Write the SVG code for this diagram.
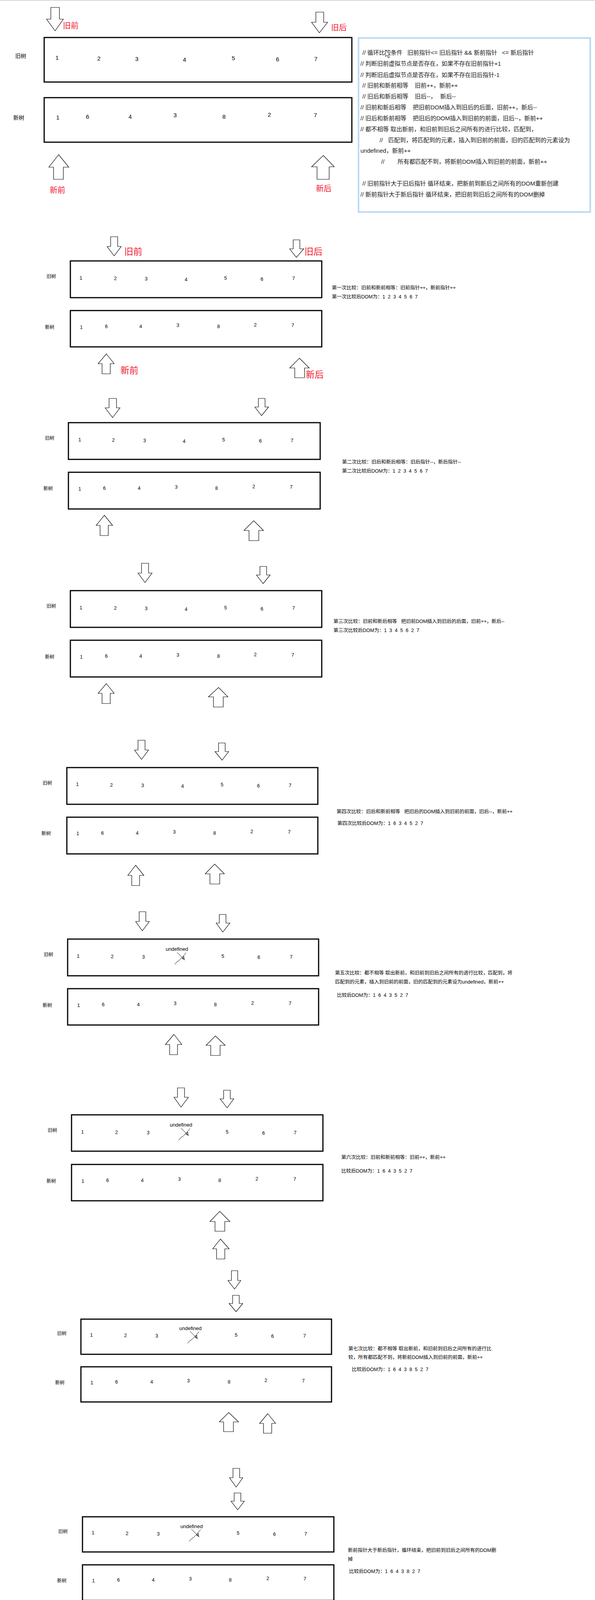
<svg xmlns="http://www.w3.org/2000/svg" width="1522" height="4279" viewBox="0 0 1522 4279">
<style>
text{font-family:"Liberation Sans","Noto Sans CJK SC",sans-serif;fill:#000}
.box{fill:none;stroke:#000;stroke-width:3}
.arr{fill:#fff;stroke:#000;stroke-width:1.2;stroke-linejoin:miter}
.num{font-size:12.5px;text-anchor:middle}
.num1{font-size:15px;text-anchor:middle}
.lbl{font-size:12px}
.lbl1{font-size:14px}
.red{font-size:23px;fill:#f2182f}
.red1{font-size:20px;fill:#f2182f}
.side{font-size:12.5px;white-space:pre}
.cm{font-size:15px;white-space:pre;fill:#1a1a1a}
.und{font-size:13px}
.xm{fill:none;stroke:#000;stroke-width:1}
</style>
<rect width="1522" height="4279" fill="#fff"/>
<line x1="0" y1="1" x2="1522" y2="1" stroke="#d3d7de" stroke-width="2"/>

<!-- Section 1 -->
<g id="s1">
  <g id="s1-old"><rect class="box" x="113" y="96" width="787" height="114"/>
    <text class="lbl1" x="39" y="148">旧树</text>
    <text class="num1" x="146" y="152.5">1</text><text class="num1" x="253" y="154.5">2</text><text class="num1" x="350" y="155.5">3</text><text class="num1" x="472" y="157.5">4</text><text class="num1" x="597" y="153.5">5</text><text class="num1" x="710" y="156.5">6</text><text class="num1" x="808" y="155.5">7</text>
  </g>
  <g id="s1-new"><rect class="box" x="113" y="250" width="787" height="114"/>
    <text class="lbl1" x="34" y="306">新树</text>
    <text class="num1" x="148" y="305.5">1</text><text class="num1" x="224" y="303.5">6</text><text class="num1" x="333" y="303.5">4</text><text class="num1" x="448" y="299.5">3</text><text class="num1" x="573" y="303.5">8</text><text class="num1" x="689" y="298.5">2</text><text class="num1" x="807" y="299.5">7</text>
  </g>
  <g id="s1-pointers">
    <polygon class="arr" points="130,19 152,19 152,49 162,49 141,79 119,49 130,49"/>
    <polygon class="arr" points="808,31 828,31 828,57 838,57 817,84 797,57 808,57"/>
    <polygon class="arr" points="150,396 176,428 162,428 162,459 137,459 137,428 125,428"/>
    <polygon class="arr" points="827,398 855,427 842,427 842,459 811,459 811,427 797,427"/>
    <text class="red1" x="161" y="72.6">旧前</text>
    <text class="red1" x="847" y="77.6">旧后</text>
    <text class="red1" x="127" y="493.6">新前</text>
    <text class="red1" x="808" y="489.6">新后</text>
  </g>
</g>

<!-- Comment box -->
<g id="notes">
  <rect x="918" y="98" width="591" height="444" fill="#fff" stroke="#d4e6f8" stroke-width="7"/>
  <rect x="918" y="98" width="591" height="444" fill="#fff" stroke="#9cc5ec" stroke-width="1.5"/>
  <text class="cm" y="139.5"><tspan x="927">// 循环比较条件</tspan><tspan x="1042">旧前指针&lt;= 旧后指针 &amp;&amp; 新前指针</tspan><tspan x="1284">&lt;= 新后指针</tspan></text>
  <text class="cm" x="922" y="167.5">// 判断旧前虚拟节点是否存在，如果不存在旧前指针+1</text>
  <text class="cm" x="922" y="196.5">// 判断旧后虚拟节点是否存在，如果不存在旧后指针-1</text>
  <text class="cm" y="223.5"><tspan x="927">// 旧前和新前相等</tspan><tspan x="1061">旧前++，新前++</tspan></text>
  <text class="cm" y="251.5"><tspan x="927">// 旧后和新后相等</tspan><tspan x="1061">旧后--，</tspan><tspan x="1126">新后--</tspan></text>
  <text class="cm" y="279.5"><tspan x="922">// 旧前和新后相等</tspan><tspan x="1056">把旧前DOM插入到旧后的后面，旧前++，新后--</tspan></text>
  <text class="cm" y="307.5"><tspan x="922">// 旧后和新前相等</tspan><tspan x="1056">把旧后的DOM插入到旧前的前面，旧后--，新前++</tspan></text>
  <text class="cm" x="922" y="335.5">// 都不相等 取出新前，和旧前到旧后之间所有的进行比较，匹配到，</text>
  <text class="cm" y="363.5"><tspan x="971">//</tspan><tspan x="993">匹配到，将匹配到的元素，插入到旧前的前面，旧的匹配到的元素设为</tspan></text>
  <text class="cm" x="922" y="390.5">undefined，新前++</text>
  <text class="cm" y="418.5"><tspan x="975">//</tspan><tspan x="1017">所有都匹配不到，将新前DOM插入到旧前的前面，新前++</tspan></text>
  <text class="cm" x="927" y="474.5">// 旧前指针大于旧后指针 循环结束，把新前到新后之间所有的DOM重新创建</text>
  <text class="cm" x="922" y="502.5">// 新前指针大于新后指针 循环结束，把旧前到旧后之间所有的DOM删掉</text>
  <polygon points="0,0 0,17 4,13 7,20 10,19 7,12 12,12" transform="translate(986,128)" fill="#fff" stroke="#000" stroke-width="1"/>
</g>

<!-- Section 2 -->
<g id="s2">
  <g id="s2-old"><rect class="box" x="180" y="668" width="643" height="94"/>
    <text class="lbl" x="119" y="711.6">旧树</text>
    <text class="num" x="207" y="715.5">1</text><text class="num" x="295" y="716.5">2</text><text class="num" x="374" y="717.5">3</text><text class="num" x="476" y="719.5">4</text><text class="num" x="577" y="715.5">5</text><text class="num" x="670" y="718.5">6</text><text class="num" x="751" y="716.5">7</text>
  </g>
  <g id="s2-new"><rect class="box" x="180" y="795" width="643" height="93"/>
    <text class="lbl" x="115" y="841.6">新树</text>
    <text class="num" x="208" y="841.5">1</text><text class="num" x="272" y="839.5">6</text><text class="num" x="360" y="839.5">4</text><text class="num" x="455" y="836.5">3</text><text class="num" x="559" y="839.5">8</text><text class="num" x="653" y="835.5">2</text><text class="num" x="749" y="836.5">7</text>
  </g>
  <g id="s2-pointers">
    <polygon class="arr" points="283,606 301,606 301,631 310,631 292,655 274,631 283,631"/>
    <polygon class="arr" points="750,614 767,614 767,637 777,637 758,659 741,637 750,637"/>
    <polygon class="arr" points="272,906 292,931 282,931 282,957 261,957 261,931 251,931"/>
    <polygon class="arr" points="766,917 791,942 779,942 779,967 754,967 754,942 741,942"/>
    <text class="red" x="318" y="651.7">旧前</text>
    <text class="red" x="779" y="651.7">旧后</text>
    <text class="red" x="308" y="955.7">新前</text>
    <text class="red" x="782" y="966.7">新后</text>
  </g>
  <g id="s2-note">
    <text class="side" x="849" y="740.5">第一次比较：旧前和新前相等：旧前指针++，新前指针++</text>
    <text class="side" x="849" y="763.5">第一次比较后DOM为：1  2  3  4  5  6  7</text>
  </g>
</g>

<!-- Section 3 -->
<g id="s3">
  <g id="s3-old"><rect class="box" x="175" y="1082" width="644" height="94"/>
    <text class="lbl" x="115" y="1125.6">旧树</text>
    <text class="num" x="204" y="1129.5">1</text><text class="num" x="290" y="1130.5">2</text><text class="num" x="370" y="1131.5">3</text><text class="num" x="471" y="1133.5">4</text><text class="num" x="572" y="1129.5">5</text><text class="num" x="666" y="1132.5">6</text><text class="num" x="747" y="1131.5">7</text>
  </g>
  <g id="s3-new"><rect class="box" x="175" y="1209" width="644" height="94"/>
    <text class="lbl" x="111" y="1254.6">新树</text>
    <text class="num" x="204" y="1255.5">1</text><text class="num" x="267" y="1253.5">6</text><text class="num" x="356" y="1253.5">4</text><text class="num" x="451" y="1250.5">3</text><text class="num" x="554" y="1253.5">8</text><text class="num" x="649" y="1249.5">2</text><text class="num" x="745" y="1250.5">7</text>
  </g>
  <g id="s3-pointers">
    <polygon class="arr" points="279,1020 298,1020 298,1044 307,1044 288,1069 269,1044 279,1044"/>
    <polygon class="arr" points="661,1020 678,1020 678,1042 687,1042 669,1064 652,1042 661,1042"/>
    <polygon class="arr" points="267,1319 288,1345 277,1345 277,1371 256,1371 256,1345 246,1345"/>
    <polygon class="arr" points="649,1333 674,1358 662,1358 662,1384 637,1384 637,1358 624,1358"/>
  </g>
  <g id="s3-note">
    <text class="side" x="875" y="1186.5">第二次比较：旧后和新后相等：旧后指针--，新后指针--</text>
    <text class="side" x="875" y="1209.5">第二次比较后DOM为：1  2  3  4  5  6  7</text>
  </g>
</g>

<!-- Section 4 -->
<g id="s4">
  <g id="s4-old"><rect class="box" x="180" y="1512" width="643" height="94"/>
    <text class="lbl" x="119" y="1555.6">旧树</text>
    <text class="num" x="207" y="1559.5">1</text><text class="num" x="295" y="1560.5">2</text><text class="num" x="374" y="1561.5">3</text><text class="num" x="476" y="1563.5">4</text><text class="num" x="577" y="1559.5">5</text><text class="num" x="670" y="1562.5">6</text><text class="num" x="751" y="1560.5">7</text>
  </g>
  <g id="s4-new"><rect class="box" x="180" y="1639" width="643" height="94"/>
    <text class="lbl" x="115" y="1685.6">新树</text>
    <text class="num" x="208" y="1685.5">1</text><text class="num" x="272" y="1683.5">6</text><text class="num" x="360" y="1683.5">4</text><text class="num" x="455" y="1680.5">3</text><text class="num" x="559" y="1683.5">8</text><text class="num" x="653" y="1679.5">2</text><text class="num" x="749" y="1680.5">7</text>
  </g>
  <g id="s4-pointers">
    <polygon class="arr" points="362,1442 380,1442 380,1467 389,1467 371,1491 353,1467 362,1467"/>
    <polygon class="arr" points="665,1450 682,1450 682,1472 691,1472 673,1494 656,1472 665,1472"/>
    <polygon class="arr" points="272,1750 292,1775 282,1775 282,1801 261,1801 261,1775 251,1775"/>
    <polygon class="arr" points="559,1760 583,1784 571,1784 571,1810 546,1810 546,1784 533,1784"/>
  </g>
  <g id="s4-note">
    <text class="side" x="853" y="1594.5">第三次比较：旧前和新后相等   把旧前DOM插入到旧后的后面，旧前++，新后--</text>
    <text class="side" x="853" y="1617.5">第三次比较后DOM为：1  3  4  5  6  2  7</text>
  </g>
</g>

<!-- Section 5 -->
<g id="s5">
  <g id="s5-old"><rect class="box" x="171" y="1965" width="642" height="94"/>
    <text class="lbl" x="109" y="2008.6">旧树</text>
    <text class="num" x="198" y="2011.5">1</text><text class="num" x="285" y="2013.5">2</text><text class="num" x="365" y="2014.5">3</text><text class="num" x="467" y="2016.5">4</text><text class="num" x="568" y="2012.5">5</text><text class="num" x="661" y="2015.5">6</text><text class="num" x="742" y="2014.5">7</text>
  </g>
  <g id="s5-new"><rect class="box" x="171" y="2092" width="642" height="94"/>
    <text class="lbl" x="106" y="2137.6">新树</text>
    <text class="num" x="199" y="2137.5">1</text><text class="num" x="262" y="2136.5">6</text><text class="num" x="351" y="2136.5">4</text><text class="num" x="446" y="2133.5">3</text><text class="num" x="549" y="2136.5">8</text><text class="num" x="644" y="2132.5">2</text><text class="num" x="740" y="2133.5">7</text>
  </g>
  <g id="s5-pointers">
    <polygon class="arr" points="353,1895 371,1895 371,1920 380,1920 362,1944 344,1920 353,1920"/>
    <polygon class="arr" points="559,1902 576,1902 576,1924 585,1924 568,1946 550,1924 559,1924"/>
    <polygon class="arr" points="347,2215 368,2241 357,2241 357,2267 337,2267 337,2241 327,2241"/>
    <polygon class="arr" points="549,2212 574,2237 562,2237 562,2263 537,2263 537,2237 525,2237"/>
  </g>
  <g id="s5-note">
    <text class="side" x="861" y="2081.5">第四次比较：旧后和新前相等   把旧后的DOM插入到旧前的前面，旧后--，新前++</text>
    <text class="side" x="863" y="2111.5">第四次比较后DOM为：1  6  3  4  5  2  7</text>
  </g>
</g>

<!-- Section 6 -->
<g id="s6">
  <g id="s6-old"><rect class="box" x="173" y="2404" width="642" height="94"/>
    <text class="lbl" x="112" y="2447.6">旧树</text>
    <text class="num" x="200" y="2451.5">1</text><text class="num" x="287" y="2452.5">2</text><text class="num" x="367" y="2453.5">3</text><text class="num" x="469" y="2456.5">4</text><text class="num" x="570" y="2451.5">5</text><text class="num" x="662" y="2454.5">6</text><text class="num" x="745" y="2453.5">7</text>
    <text class="und" x="424" y="2434">undefined</text>
    <g transform="translate(469,2452)"><path class="xm" d="M-16,-14 L4,6"/><path class="xm" d="M7,-13 L-4,0 Q-11,8 -17,11 L-22,17"/></g>
  </g>
  <g id="s6-new"><rect class="box" x="173" y="2531" width="642" height="93"/>
    <text class="lbl" x="109" y="2577.6">新树</text>
    <text class="num" x="201" y="2577.5">1</text><text class="num" x="264" y="2575.5">6</text><text class="num" x="354" y="2575.5">4</text><text class="num" x="448" y="2572.5">3</text><text class="num" x="551" y="2575.5">8</text><text class="num" x="646" y="2571.5">2</text><text class="num" x="742" y="2572.5">7</text>
  </g>
  <g id="s6-pointers">
    <polygon class="arr" points="356,2334 373,2334 373,2359 382,2359 364,2383 347,2359 356,2359"/>
    <polygon class="arr" points="561,2341 578,2341 578,2363 588,2363 570,2386 553,2363 561,2363"/>
    <polygon class="arr" points="445,2648 465,2674 454,2674 454,2700 434,2700 434,2674 423,2674"/>
    <polygon class="arr" points="551,2652 576,2676 563,2676 563,2702 539,2702 539,2676 527,2676"/>
  </g>
  <g id="s6-note">
    <text class="side" x="857" y="2494.5">第五次比较：都不相等 取出新前，和旧前到旧后之间所有的进行比较，匹配到，将</text>
    <text class="side" x="857" y="2517.5">匹配到的元素，插入到旧前的前面，旧的匹配到的元素设为undefined，新前++</text>
    <text class="side" x="862" y="2551.5">比较后DOM为：1  6  4  3  5  2  7</text>
  </g>
</g>

<!-- Section 7 -->
<g id="s7">
  <g id="s7-old"><rect class="box" x="183" y="2854" width="643" height="93"/>
    <text class="lbl" x="122" y="2897.6">旧树</text>
    <text class="num" x="211" y="2901.5">1</text><text class="num" x="298" y="2902.5">2</text><text class="num" x="379" y="2903.5">3</text><text class="num" x="479" y="2906.5">4</text><text class="num" x="581" y="2901.5">5</text><text class="num" x="674" y="2904.5">6</text><text class="num" x="755" y="2903.5">7</text>
    <text class="und" x="434.5" y="2884">undefined</text>
    <g transform="translate(479,2902)"><path class="xm" d="M-16,-14 L4,6"/><path class="xm" d="M7,-13 L-4,0 Q-11,8 -17,11 L-22,17"/></g>
  </g>
  <g id="s7-new"><rect class="box" x="183" y="2981" width="643" height="93"/>
    <text class="lbl" x="119" y="3027.6">新树</text>
    <text class="num" x="212" y="3027.5">1</text><text class="num" x="275" y="3025.5">6</text><text class="num" x="364" y="3025.5">4</text><text class="num" x="459" y="3022.5">3</text><text class="num" x="562" y="3025.5">8</text><text class="num" x="657" y="3021.5">2</text><text class="num" x="754" y="3022.5">7</text>
  </g>
  <g id="s7-pointers">
    <polygon class="arr" points="454,2785 472,2785 472,2809 482,2809 463,2834 445,2809 454,2809"/>
    <polygon class="arr" points="572,2791 589,2791 589,2813 598,2813 581,2836 563,2813 572,2813"/>
    <polygon class="arr" points="562,3101 588,3127 575,3127 575,3152 550,3152 550,3127 537,3127"/>
    <polygon class="arr" points="564,3172 586,3197 575,3197 575,3223 554,3223 554,3197 544,3197"/>
  </g>
  <g id="s7-note">
    <text class="side" x="873" y="2966.5">第六次比较：旧前和新前相等：旧前++，新前++</text>
    <text class="side" x="873" y="3001.5">比较后DOM为：1  6  4  3  5  2  7</text>
  </g>
</g>

<!-- Section 8 -->
<g id="s8">
  <g id="s8-old"><rect class="box" x="207" y="3377" width="641" height="90"/>
    <text class="lbl" x="146" y="3417.6">旧树</text>
    <text class="num" x="234" y="3421.5">1</text><text class="num" x="321" y="3422.5">2</text><text class="num" x="401" y="3423.5">3</text><text class="num" x="502" y="3426.5">4</text><text class="num" x="604" y="3421.5">5</text><text class="num" x="697" y="3424.5">6</text><text class="num" x="779" y="3423.5">7</text>
    <text class="und" x="458.5" y="3405">undefined</text>
    <g transform="translate(502,3422)"><path class="xm" d="M-16,-14 L4,6"/><path class="xm" d="M7,-13 L-4,0 Q-11,8 -17,11 L-22,17"/></g>
  </g>
  <g id="s8-new"><rect class="box" x="207" y="3499" width="641" height="90"/>
    <text class="lbl" x="141" y="3543.6">新树</text>
    <text class="num" x="235" y="3543.5">1</text><text class="num" x="298" y="3541.5">6</text><text class="num" x="388" y="3541.5">4</text><text class="num" x="482" y="3538.5">3</text><text class="num" x="586" y="3541.5">8</text><text class="num" x="680" y="3537.5">2</text><text class="num" x="776" y="3538.5">7</text>
  </g>
  <g id="s8-pointers">
    <polygon class="arr" points="592,3253 608,3253 608,3278 616,3278 600,3300 583,3278 592,3278"/>
    <polygon class="arr" points="595,3316 612,3316 612,3337 621,3337 604,3358 586,3337 595,3337"/>
    <polygon class="arr" points="585,3616 610,3640 597,3640 597,3665 572,3665 572,3640 561,3640"/>
    <polygon class="arr" points="685,3619 705,3644 695,3644 695,3669 674,3669 674,3644 664,3644"/>
  </g>
  <g id="s8-note">
    <text class="side" x="891" y="3456.5">第七次比较：都不相等 取出新前，和旧前到旧后之间所有的进行比</text>
    <text class="side" x="891" y="3478.5">较，所有都匹配不到，将新前DOM插入到旧前的前面，新前++</text>
    <text class="side" x="900" y="3509.5">比较后DOM为：1  6  4  3  8  5  2  7</text>
  </g>
</g>

<!-- Section 9 -->
<g id="s9">
  <g id="s9-old"><rect class="box" x="211" y="3883" width="643" height="90"/>
    <text class="lbl" x="149" y="3924.6">旧树</text>
    <text class="num" x="238" y="3927.5">1</text><text class="num" x="325" y="3929.5">2</text><text class="num" x="405" y="3930.5">3</text><text class="num" x="506" y="3933.5">4</text><text class="num" x="609" y="3928.5">5</text><text class="num" x="702" y="3931.5">6</text><text class="num" x="782" y="3930.5">7</text>
    <text class="und" x="461.5" y="3911.5">undefined</text>
    <g transform="translate(506,3929)"><path class="xm" d="M-16,-14 L4,6"/><path class="xm" d="M7,-13 L-4,0 Q-11,8 -17,11 L-22,17"/></g>
  </g>
  <g id="s9-new"><rect class="box" x="211" y="4006" width="643" height="91"/>
    <text class="lbl" x="146" y="4050.6">新树</text>
    <text class="num" x="239" y="4050.5">1</text><text class="num" x="303" y="4048.5">6</text><text class="num" x="392" y="4048.5">4</text><text class="num" x="487" y="4045.5">3</text><text class="num" x="589" y="4048.5">8</text><text class="num" x="685" y="4044.5">2</text><text class="num" x="780" y="4045.5">7</text>
  </g>
  <g id="s9-pointers">
    <polygon class="arr" points="596,3759 613,3759 613,3783 621,3783 604,3807 587,3783 596,3783"/>
    <polygon class="arr" points="599,3822 616,3822 616,3843 625,3843 608,3865 591,3843 599,3843"/>
    <polygon class="arr" points="589,4123 614,4147 602,4147 602,4172 577,4172 577,4147 565,4147"/>
    <polygon class="arr" points="688,4126 709,4151 698,4151 698,4176 678,4176 678,4151 668,4151"/>
  </g>
  <g id="s9-note">
    <text class="side" x="890" y="3972.5">新前指针大于新后指针，循环结束，把旧前到旧后之间所有的DOM删</text>
    <text class="side" x="890" y="3995.5">掉</text>
    <text class="side" x="893" y="4026.5">比较后DOM为：1  6  4  3  8  2  7</text>
  </g>
</g>

<g id="connectors"/>
</svg>
